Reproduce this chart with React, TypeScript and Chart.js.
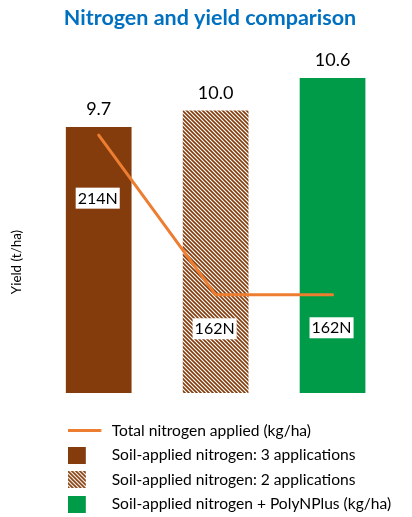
import { useEffect, useRef } from 'react';
import { Chart, registerables } from 'chart.js';

Chart.register(...registerables);

const TITLE = 'Nitrogen and yield comparison';
const Y_TITLE = 'Yield (t/ha)';
const LINE_LABEL = 'Total nitrogen applied (kg/ha)';
const CATEGORIES = [
  'Soil-applied nitrogen: 3 applications',
  'Soil-applied nitrogen: 2 applications',
  'Soil-applied nitrogen + PolyNPlus (kg/ha)',
];
const YIELD = [9.7, 10.0, 10.6];
const NITROGEN = [214, 162, 162];
const YIELD_RANGE = [4.8, 11.3];
const NITROGEN_RANGE = [130, 245];
const N_LABEL_OFFSETS = [63, 34, 33];

const BROWN = '#843C0C';
const GREEN = '#009B48';
const ORANGE = '#ED7D31';
const BLUE = '#0070C0';
const FONT = 'Lato, "Open Sans", sans-serif';

function hatchTile(color: string, size = 4): HTMLCanvasElement {
  const c = document.createElement('canvas');
  c.width = size;
  c.height = size;
  const g = c.getContext('2d')!;
  g.fillStyle = '#ffffff';
  g.fillRect(0, 0, size, size);
  g.strokeStyle = color;
  g.lineWidth = (size / (2 * Math.SQRT2)) * 1.15;
  g.beginPath();
  for (const k of [-1, 0, 1]) {
    g.moveTo(k * size - 1, -1);
    g.lineTo(k * size + size + 1, size + 1);
  }
  g.stroke();
  return c;
}

function iconCanvas(draw: (g: CanvasRenderingContext2D) => void, w: number, h: number) {
  const c = document.createElement('canvas');
  c.width = w;
  c.height = h;
  draw(c.getContext('2d')!);
  return c;
}

export default function App() {
  const ref = useRef<HTMLCanvasElement | null>(null);

  useEffect(() => {
    const canvas = ref.current!;
    const ctx = canvas.getContext('2d')!;
    const tile = hatchTile(BROWN, 4);
    const hatch = ctx.createPattern(tile, 'repeat')!;
    const barColors: (string | CanvasPattern)[] = [BROWN, hatch, GREEN];

    const lineIcon = iconCanvas((g) => {
      g.fillStyle = ORANGE;
      g.fillRect(0, 0, 33.5, 3);
    }, 36, 3);
    const squareIcons = barColors.map((col) =>
      iconCanvas((g) => {
        g.fillStyle = col instanceof CanvasPattern ? g.createPattern(tile, 'repeat')! : col;
        g.fillRect(0, 0, 18, 17);
      }, 36, 17)
    );

    const extras = {
      id: 'extras',
      afterLayout(chart: any) {
        const lg = chart.legend;
        if (lg) {
          const h = lg.height;
          lg.left = 58.8;
          lg.top = 413.8;
          lg.bottom = lg.top + h;
        }
      },
      afterDatasetsDraw(chart: any) {
        const c = chart.ctx as CanvasRenderingContext2D;
        c.save();
        c.textAlign = 'center';
        c.textBaseline = 'middle';
        c.fillStyle = '#000';
        c.font = `18px ${FONT}`;
        chart.getDatasetMeta(1).data.forEach((el: any, i: number) => {
          c.fillText(YIELD[i].toFixed(1), el.x, el.y - 17.5);
        });
        c.font = `16px ${FONT}`;
        chart.getDatasetMeta(0).data.forEach((pt: any, i: number) => {
          const txt = `${NITROGEN[i]}N`;
          const w = c.measureText(txt).width + 4;
          const h = 21;
          const cx = pt.x - 1;
          const cy = pt.y + N_LABEL_OFFSETS[i];
          c.fillStyle = '#fff';
          c.fillRect(cx - w / 2, cy - h / 2, w, h);
          c.fillStyle = '#000';
          c.fillText(txt, cx, cy + 0.5);
        });
        c.restore();
      },
      afterDraw(chart: any) {
        const c = chart.ctx as CanvasRenderingContext2D;
        c.save();
        c.translate(16.5, 262);
        c.rotate(-Math.PI / 2);
        c.font = `13.4px ${FONT}`;
        c.fillStyle = '#000';
        c.textAlign = 'center';
        c.textBaseline = 'middle';
        c.fillText(Y_TITLE, 0, 0);
        c.restore();
      },
    };

    const chart = new Chart(canvas, {
      type: 'bar',
      data: {
        labels: CATEGORIES,
        datasets: [
          {
            type: 'line',
            label: LINE_LABEL,
            data: NITROGEN,
            yAxisID: 'y2',
            borderColor: ORANGE,
            backgroundColor: ORANGE,
            borderWidth: 3,
            borderCapStyle: 'round',
            borderJoinStyle: 'round',
            pointRadius: 0,
            tension: 0,
            order: 0,
          } as any,
          {
            type: 'bar',
            label: 'Yield',
            data: YIELD,
            yAxisID: 'y',
            backgroundColor: barColors as any,
            borderWidth: 0,
            categoryPercentage: 1,
            barPercentage: 0.562,
            order: 1,
          } as any,
        ],
      },
      options: {
        responsive: false,
        animation: false,
        layout: { padding: { left: 8, right: 0, top: 0, bottom: 16 } },
        scales: {
          x: { display: false },
          y: {
            min: YIELD_RANGE[0],
            max: YIELD_RANGE[1],
            ticks: { display: false },
            grid: { display: false },
            border: { display: false },
            afterFit: (s: any) => {
              s.width = 32.25;
            },
          },
          y2: {
            position: 'right',
            min: NITROGEN_RANGE[0],
            max: NITROGEN_RANGE[1],
            ticks: { display: false },
            grid: { display: false },
            border: { display: false },
            afterFit: (s: any) => {
              s.width = 21;
            },
          },
        },
        plugins: {
          title: {
            display: true,
            text: TITLE,
            color: BLUE,
            font: { family: FONT, size: 21.5, weight: 'bold' },
            padding: { top: 5.1, bottom: 9.1 },
          },
          legend: {
            display: true,
            position: 'bottom',
            align: 'start',
            onClick: () => {},
            labels: {
              usePointStyle: true,
              pointStyleWidth: 36.2,
              padding: 8.9,
              color: '#000',
              font: { family: FONT, size: 15.6 },
              generateLabels: () => [
                {
                  text: LINE_LABEL,
                  pointStyle: lineIcon as any,
                  fillStyle: ORANGE,
                  strokeStyle: ORANGE,
                  lineWidth: 0,
                  hidden: false,
                  datasetIndex: 0,
                },
                ...CATEGORIES.map((cat, i) => ({
                  text: cat,
                  pointStyle: squareIcons[i] as any,
                  fillStyle: BROWN,
                  strokeStyle: BROWN,
                  lineWidth: 0,
                  hidden: false,
                  datasetIndex: 1,
                  index: i,
                })),
              ],
            },
          },
          tooltip: { enabled: false },
        },
      },
      plugins: [extras],
    });

    return () => chart.destroy();
  }, []);

  return (
    <div style={{ position: 'absolute', left: 0, top: 0, width: 412, height: 517, background: '#fff' }}>
      <canvas ref={ref} width={412} height={517} />
    </div>
  );
}
